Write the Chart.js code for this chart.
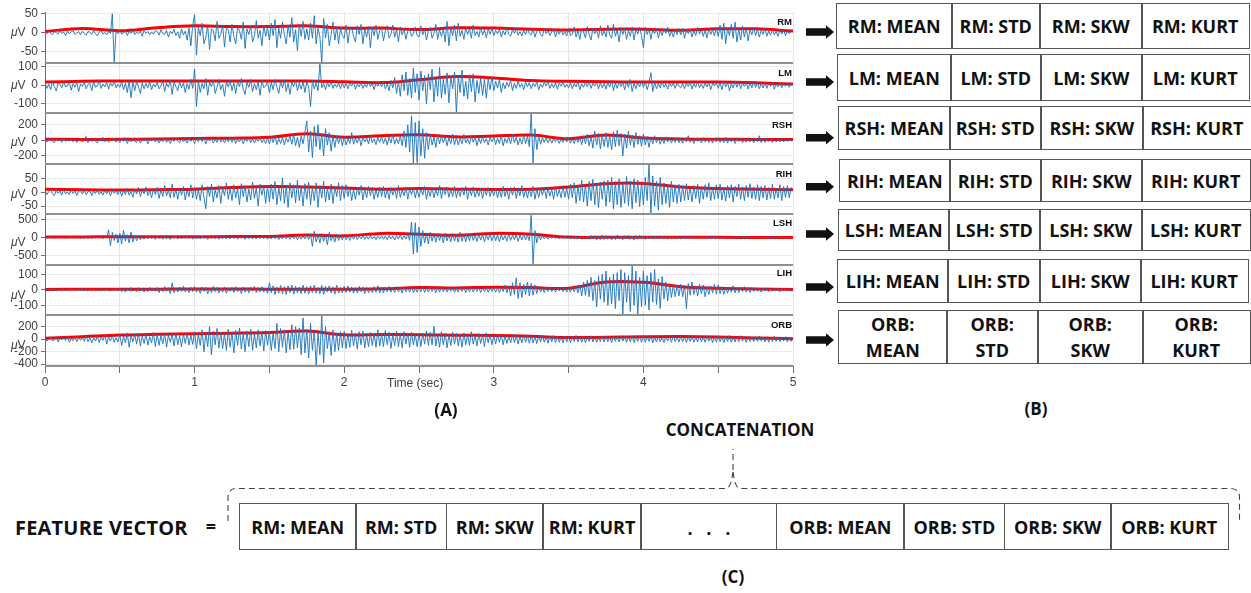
<!DOCTYPE html>
<html>
<head>
<meta charset="utf-8">
<title>EMG feature extraction</title>
<script src="https://cdn.jsdelivr.net/npm/chart.js@4.4.1/dist/chart.umd.min.js"></script>
<style>
  html, body { margin: 0; padding: 0; background: #fff; }
  #page { position: relative; width: 1251px; height: 593px; overflow: hidden; background: #fff; }
  #eegWrap { position: absolute; left: 0; top: 0; width: 800px; height: 395px; }
  .lbl { position: absolute; white-space: nowrap; line-height: 1; }
  .chan { font: bold 9.5px 'Liberation Sans', Arial, sans-serif; color: #111; transform: translate(-100%, -50%); }
  .unit { font: 12px 'Liberation Sans', Arial, sans-serif; color: #404040; transform: translateY(-50%); }
  .unit i { font-style: italic; }
  .axisTitle { font: 12px 'Liberation Sans', Arial, sans-serif; color: #404040; transform: translateY(-50%); }
  .caption { font: 700 17px 'Open Sans', sans-serif; color: #111; transform: translate(-50%, -50%); }
  .cell { position: absolute; box-sizing: border-box; border: 1.5px solid #555; display: flex;
          align-items: center; justify-content: center; text-align: center;
          font: 700 18px 'Open Sans', sans-serif; color: #111; line-height: 26px; white-space: nowrap; }
  svg { position: absolute; left: 0; top: 0; }
</style>
</head>
<body>
<div id="page">
  <div id="eegWrap"><canvas id="eeg" width="800" height="395"></canvas></div>
  <svg id="deco" width="1251" height="593"></svg>
</div>
<script>
// ---- channels and features ----
const channelNames = ['RM', 'LM', 'RSH', 'RIH', 'LSH', 'LIH', 'ORB'];
const statNames = ['MEAN', 'STD', 'SKW', 'KURT'];

// ---- axis ticks and limits (µV) ----
const rmTicks  = [-50, 0, 50];         const rmLimits  = [-80, 55];
const lmTicks  = [-100, 0, 100];       const lmLimits  = [-150, 120];
const rshTicks = [-200, 0, 200];       const rshLimits = [-300, 350];
const rihTicks = [-50, 0, 50];         const rihLimits = [-80, 105];
const lshTicks = [-500, 0, 500];       const lshLimits = [-770, 660];
const lihTicks = [-100, 0, 100];       const lihLimits = [-165, 160];
const orbTicks = [-400, -200, 0, 200]; const orbLimits = [-430, 380];
const timeLimits = [0, 5];

// ---- raw traces, one sample every 12.5 ms (0 .. 5 s), 20 samples per line ----
const rmSignal = [
  2,-3,5,-1,-6,3,0,-4,6,-2,1,-8,4,-3,2,5,-5,-1,3,-6,
  4,-2,-7,3,1,-5,6,-3,-9,2,5,-4,0,-6,3,-2,50,-80,4,-3,
  6,-4,-1,5,-8,3,-2,7,-5,1,-3,4,-10,6,-2,3,-6,2,-4,5,
  3,-7,8,-2,-5,6,-12,4,-3,9,-8,2,-15,10,-6,4,-20,12,-35,20,
  48,-60,15,-8,25,-30,-12,18,-45,10,5,-22,30,-15,-5,20,-38,12,8,-25,
  22,-10,-30,15,5,-18,28,-42,10,-5,18,-25,-8,32,-15,6,-35,20,-10,14,
  -20,25,-8,35,-40,12,-15,28,-5,-30,20,-12,40,-25,8,-48,22,-10,30,-18,
  10,-20,25,-15,45,-30,12,-10,-80,38,-15,22,-35,-5,28,-20,15,-30,12,-8,
  -15,20,-28,8,15,-10,-25,18,-5,22,-30,10,-12,16,-40,14,-8,20,-18,6,
  12,-22,5,18,-15,-4,20,-12,8,-25,15,-6,10,-18,4,12,-10,-3,15,-8,
  -12,18,-6,10,-20,5,14,-15,-2,22,-18,8,-10,12,-25,30,-35,15,-8,20,
  -22,25,-10,6,-18,14,-5,10,-15,20,-8,3,-12,15,-6,8,-14,10,-4,12,
  -8,6,-3,10,-12,5,-6,14,-4,-10,8,-2,12,-7,3,-9,6,-5,10,-3,
  -6,9,-12,4,8,-5,-10,12,-3,6,-8,2,10,-12,5,-4,8,-6,3,-9,
  12,-8,-4,15,-12,6,-18,10,2,-14,16,-6,-20,12,-3,8,-15,18,-8,5,
  -12,20,-6,-15,22,-10,8,-25,14,-5,12,-18,6,-10,15,-20,10,-4,14,-8,
  -40,15,-5,10,-18,8,-3,12,-14,6,-8,10,-2,15,-10,4,-12,8,-5,11,
  -6,12,-15,8,-3,10,-12,5,-8,14,-4,9,-10,6,-14,11,-5,8,-9,13,
  -10,20,-18,25,-30,12,-8,22,-15,28,-25,10,-20,18,-12,15,-22,8,-6,14,
  -8,10,-12,6,-5,12,-10,4,-7,9,-6,3,-10,8,-4,7,-8,5,-3,6,
  2
];
const lmSignal = [
  12,-18,5,-25,20,-8,-32,10,3,-15,18,-10,-5,22,-28,8,-12,15,-35,6,
  -8,14,-20,3,10,-30,18,-12,-4,25,-18,6,-10,15,-22,12,-6,20,-15,4,
  -12,18,-25,10,-40,22,-68,15,-30,20,-10,-45,12,-20,8,-15,18,-25,6,-10,
  15,-20,-5,22,-35,10,-12,25,-50,18,-8,-30,20,-15,12,-40,8,-22,30,-18,
  85,-115,25,-40,10,-20,35,-55,15,-8,28,-45,-12,30,-25,5,-60,20,-10,25,
  -30,12,-45,22,-8,35,-20,-50,15,-12,30,-35,8,-25,18,-55,25,-15,-5,20,
  -40,15,-25,30,-10,-45,20,-15,28,-35,10,-50,18,-8,25,-30,12,-22,20,-40,
  18,-10,-115,25,-20,12,-30,115,-15,8,-25,15,-10,20,-18,5,-12,14,-20,10,
  -15,8,-20,12,-5,18,-22,6,-10,15,-18,4,-12,20,-8,10,-25,12,-6,14,
  -10,18,-20,8,-30,25,-15,40,-45,20,-60,55,-30,70,-55,35,-70,90,-40,60,
  -80,75,-30,50,-100,60,-25,85,-90,40,-60,94,-70,30,-50,65,-95,45,-20,70,
  -150,50,-40,80,-60,20,-75,55,-35,60,-90,25,-45,40,-55,30,-70,35,-25,45,
  -30,20,-15,28,-40,12,-20,15,-8,25,-30,10,-18,22,-12,8,-25,18,-10,14,
  -20,10,-8,18,-25,6,-12,15,-5,20,-18,8,-15,12,-22,10,-6,16,-12,5,
  -15,12,-20,8,-10,18,-25,6,-12,15,-8,22,-18,10,-5,14,-20,12,-15,8,
  -22,15,-10,25,-30,12,-18,20,-8,14,-25,18,-12,30,-35,10,-20,15,-10,22,
  -12,18,-25,8,66,-35,15,-20,8,-15,18,-12,6,-22,14,-8,10,-18,12,-6,
  -15,10,-20,12,-8,16,-22,8,-12,20,-14,6,-18,12,-10,15,-25,10,-5,14,
  -18,12,-25,20,-10,15,-30,8,-15,22,-12,18,-20,10,-8,14,-22,12,-15,20,
  -12,15,-20,8,-15,12,-18,10,-8,14,-22,6,-10,12,-15,8,-6,10,-12,5,
  8
];
const rshSignal = [
  15,-20,8,25,-12,-30,18,-8,10,-25,20,-15,5,-10,22,-18,12,-28,8,15,
  -20,12,50,-30,10,-15,25,-8,-35,20,-12,40,-18,6,-25,15,-10,30,-22,10,
  -30,25,-15,35,-40,10,-20,30,-12,-25,18,-35,22,-10,28,-45,15,-8,30,-20,
  25,-35,12,-18,35,-25,8,-40,20,-15,30,-10,-30,25,-20,15,-35,28,-12,18,
  -40,30,-20,35,-15,40,-45,20,-10,30,-35,15,-25,38,-20,10,-30,25,-18,40,
  -25,35,-40,15,-20,30,-45,25,-12,40,-30,18,-35,22,-10,35,-28,12,-40,30,
  -45,50,-30,60,-55,25,-40,45,-60,35,-20,55,-50,80,-70,40,-90,60,-45,100,
  250,-150,120,-220,180,-80,200,-120,90,-200,150,-60,100,-140,70,-90,60,-40,50,-70,
  45,-60,30,-40,100,-50,25,-35,55,-70,40,-20,35,-45,60,-30,20,-55,40,-25,
  50,-40,30,-60,45,-35,80,-50,25,-45,60,-70,120,-90,200,-150,316,-300,230,-286,
  250,-200,150,-230,100,-120,80,-60,40,-90,75,-45,60,-30,50,-70,35,-40,80,-55,
  40,-60,30,-45,75,-35,20,-50,60,-25,45,-70,30,-40,55,-30,25,-60,40,-20,
  45,-55,30,-40,60,-70,25,-35,50,-45,80,-30,40,-60,30,-50,70,-40,55,-80,
  340,-290,150,-120,60,-50,35,-25,40,-30,20,-35,25,-15,30,-40,18,-25,35,-20,
  30,-35,20,-40,45,-25,35,-55,60,-45,80,-70,50,-100,120,-60,90,-110,70,-80,
  100,-90,60,-120,110,-80,130,-70,90,-200,80,-100,120,-60,70,-90,100,-50,60,-75,
  80,-60,50,-90,40,-45,60,-30,35,-50,25,-40,45,-20,30,-35,20,-25,40,-30,
  25,-35,30,-20,60,-25,18,-40,30,-15,25,-30,35,-20,15,-28,22,-35,30,-18,
  35,-25,20,-30,40,-35,25,-18,30,-40,22,-15,28,-30,18,-25,35,-20,15,-30,
  25,-20,60,-30,18,-25,30,-15,22,-28,15,-20,25,-18,12,-22,20,-15,18,-10,
  10
];
const rihSignal = [
  6,-8,3,10,-5,-12,8,-3,5,-10,12,-6,2,-8,9,-4,6,-11,4,7,
  -6,10,-9,3,7,-12,5,-4,11,-7,2,-10,8,-5,6,-13,9,-3,5,-8,
  10,-14,6,-8,15,-10,3,-18,12,-6,18,-15,8,-5,20,-12,6,-20,14,-8,
  18,-22,10,-15,25,-12,8,-20,30,-18,12,-25,15,-10,22,-28,10,-15,28,-20,
  20,-25,12,-30,28,-18,-60,22,-15,30,-35,10,-20,25,-40,18,-12,35,-25,15,
  -30,28,-20,15,-45,32,-15,25,-35,12,-28,38,-22,18,-50,30,-10,22,-40,26,
  -35,30,-25,40,-45,20,-30,53,-40,25,-55,35,-20,28,-38,45,-30,22,-50,32,
  -25,38,-45,20,-30,35,-55,25,-20,40,-35,18,-28,30,-40,22,-15,35,-30,25,
  -22,28,-15,20,-30,12,-25,18,-10,25,-28,15,-20,22,-12,18,-25,10,-18,20,
  -15,22,-20,12,-25,18,-10,15,-22,25,-18,10,-12,20,-25,14,-8,18,-20,12,
  -18,15,-10,22,-25,12,-15,18,-20,10,-12,25,-22,15,-8,20,-18,12,-15,22,
  -20,12,-15,18,-10,22,-25,15,-12,20,-18,8,-14,16,-22,12,-10,18,-15,10,
  -12,15,-20,10,-18,22,-15,12,-25,18,-10,20,-22,15,-12,25,-18,10,-20,14,
  -15,22,-25,12,-18,15,-10,20,-22,18,-14,12,-25,22,-15,10,-20,25,-18,15,
  -25,30,-20,35,-40,25,-30,45,-35,28,-50,40,-30,48,-45,32,-55,38,-25,42,
  -50,45,-35,55,-60,40,-45,50,-55,35,-40,58,-48,42,-60,50,-38,45,-52,40,
  -45,55,-30,105,-78,60,-50,40,-65,55,-45,35,-40,30,-55,40,-35,28,-40,30,
  -35,25,-30,32,-28,20,-35,25,-22,30,-40,22,-25,28,-18,35,-30,20,-25,28,
  -22,30,-28,18,-32,25,-20,28,-35,22,-15,30,-25,20,-30,25,-18,32,-22,20,
  -25,28,-30,22,-20,25,-28,18,-22,30,-25,15,-20,28,-30,22,-18,25,-20,18,
  10
];
const lshSignal = [
  8,-12,15,-6,20,-15,5,-10,18,-8,12,-20,6,-14,10,-5,16,-12,8,-18,
  12,-10,20,-15,6,-22,14,-8,18,-12,10,-25,15,-6,220,-230,150,-80,100,-150,
  120,-180,200,-100,80,-150,160,-120,60,-90,40,-60,30,-45,25,-35,40,-20,30,-50,
  35,-25,20,-45,40,-30,25,-50,30,-20,45,-35,15,-40,30,-25,50,-30,20,-45,
  30,-40,25,-35,45,-20,30,-50,35,-25,40,-30,20,-45,35,-25,30,-40,25,-35,
  40,-30,25,-45,30,-20,35,-50,25,-30,45,-35,20,-40,30,-25,40,-30,35,-45,
  35,-40,50,-30,45,-55,30,-40,60,-35,40,-50,45,-30,55,-60,35,-45,50,-40,
  60,-50,100,-250,180,-120,90,-150,120,-100,80,-200,150,-90,60,-120,100,-80,50,-70,
  80,-60,50,-80,45,-40,60,-55,40,-35,55,-50,35,-45,60,-40,30,-55,45,-35,
  50,-45,40,-60,55,-35,45,-70,60,-40,80,-60,50,-45,100,-80,440,-465,420,-420,
  300,-250,200,-150,120,-180,150,-100,90,-130,120,-80,100,-150,130,-90,80,-120,110,-100,
  90,-130,150,-100,80,-120,100,-90,130,-80,70,-110,100,-70,90,-120,80,-60,110,-90,
  100,-90,80,-120,90,-70,60,-100,120,-80,70,-60,90,-110,80,-70,100,-60,70,-90,
  630,-740,200,-150,90,-60,50,-40,30,-45,35,-25,40,-30,20,-35,30,-20,25,-30,
  30,-40,25,-35,45,-30,20,-45,35,-25,40,-50,60,-40,50,-60,45,-55,70,-50,
  60,-45,50,-65,40,-55,70,-40,45,-60,55,-35,65,-50,40,-70,55,-45,60,-40,
  45,-50,30,-40,25,-35,40,-30,20,-25,35,-30,25,-40,30,-20,25,-35,20,-28,
  30,-25,20,-35,25,-18,30,-22,15,-30,25,-20,35,-25,18,-30,22,-15,28,-20,
  20,-30,25,-18,30,-22,15,-25,20,-30,22,-18,28,-20,15,-25,20,-12,18,-15,
  15,-20,25,-12,18,-22,10,-15,20,-18,12,-22,15,-10,18,-15,12,-20,10,-12,
  5
];
const lihSignal = [
  4,-6,2,-5,7,-3,5,-8,3,-4,6,-7,2,-5,8,-3,4,-6,5,-4,
  6,-5,3,-8,5,-4,7,-6,2,-5,8,-7,4,-3,6,-9,5,-4,7,-6,
  10,-12,6,-15,12,-8,15,-10,5,-12,14,-8,10,-15,8,-12,15,-6,12,-10,
  15,-18,10,-12,20,-10,14,-25,44,-20,12,-15,18,-10,22,-14,8,-18,15,-12,
  20,-15,12,-22,18,-10,15,-25,10,-18,22,-12,15,-20,10,-15,18,-22,12,-10,
  15,-18,20,-12,10,-25,18,-15,12,-20,16,-10,22,-18,14,-12,20,-15,10,-22,
  45,-20,25,-30,18,-22,28,-25,20,-30,25,-18,30,-28,22,-20,18,-25,30,-22,
  20,-28,25,-18,30,-22,15,-25,28,-30,22,-15,25,-20,18,-28,30,-22,15,-20,
  22,-18,25,-15,18,-22,15,-20,22,-12,18,-25,15,-20,12,-18,20,-15,25,-20,
  15,-20,18,-12,22,-15,12,-18,20,-14,15,-22,18,-12,10,-15,20,-18,12,-16,
  15,-12,20,-18,12,-15,18,-10,15,-20,12,-14,18,-12,10,-15,14,-10,12,-16,
  12,-15,18,-10,14,-18,10,-12,16,-14,12,-10,15,-18,10,-12,14,-16,12,-10,
  12,-15,10,-18,15,-12,30,-20,25,-40,45,-30,76,-57,45,-50,35,-30,50,-40,
  40,-35,30,-25,20,-15,12,-18,15,-10,18,-12,10,-15,12,-8,14,-12,10,-15,
  12,-15,18,-12,25,-20,30,-40,50,-35,60,-45,80,-70,60,-110,90,-60,100,-80,
  120,-100,80,-90,100,-120,110,-70,130,-156,110,-80,90,-140,154,-100,120,-156,80,-110,
  120,-100,90,-130,110,-80,130,-95,70,-120,85,-60,50,-70,40,-50,35,-45,30,-40,
  35,-45,30,-120,40,-35,50,-30,25,-40,35,-25,30,-45,20,-30,25,-20,35,-28,
  30,-25,20,-30,15,-22,18,-15,25,-20,12,-18,15,-12,20,-15,10,-18,14,-10,
  12,-10,8,-15,10,-8,12,-12,6,-10,8,-6,10,-12,8,-5,10,-8,6,-10,
  3
];
const orbSignal = [
  20,-30,10,35,-25,-15,40,-45,18,-10,30,-20,45,-50,15,-25,35,-40,28,-18,
  30,-35,50,-40,25,-60,20,-30,45,-55,35,-20,70,-80,40,-30,60,-50,25,-45,
  80,-100,45,-60,100,-130,60,-40,75,-80,90,-110,50,-70,85,-95,40,-60,110,-120,
  80,-100,60,-75,95,-130,70,-50,85,-110,100,-90,55,-120,80,-70,110,-95,65,-85,
  120,-150,80,-100,150,-200,100,-120,200,-250,130,-90,170,-140,110,-150,90,-180,160,-130,
  120,-220,140,-100,180,-160,100,-200,130,-120,160,-180,90,-140,150,-110,120,-190,140,-100,
  130,-180,100,-150,250,-200,170,-130,150,-220,120,-170,230,-160,200,-140,180,-250,340,-220,
  160,-300,250,-180,150,-420,100,-250,380,-380,200,-150,120,-260,150,-200,100,-180,120,-140,
  120,-150,90,-130,140,-110,100,-160,120,-90,130,-140,80,-120,110,-100,90,-130,150,-110,
  100,-120,140,-90,110,-150,80,-100,130,-120,90,-140,120,-80,100,-130,110,-90,80,-120,
  90,-120,100,-80,130,-100,110,-90,205,-110,80,-130,120,-90,100,-140,70,-100,110,-80,
  90,-110,80,-130,100,-90,70,-100,120,-80,60,-110,90,-70,80,-120,100,-60,70,-90,
  60,-80,70,-50,80,-90,60,-70,50,-60,75,-55,60,-80,45,-60,70,-50,55,-65,
  50,-60,40,-70,55,-45,60,-50,40,-65,50,-40,60,-55,45,-50,35,-60,50,-45,
  40,-55,50,-40,60,-45,35,-50,45,-60,40,-35,55,-45,40,-50,35,-40,50,-45,
  45,-40,35,-55,50,-35,40,-45,55,-30,45,-50,35,-40,50,-55,40,-35,45,-50,
  45,-50,40,-35,55,-60,30,-45,50,-40,35,-55,40,-30,45,-50,60,-40,35,-45,
  50,-40,35,-55,45,-35,40,-50,30,-45,55,-40,35,-50,45,-30,40,-55,35,-45,
  50,-40,35,-55,45,-35,60,-50,40,-45,35,-40,55,-30,45,-50,40,-35,30,-40,
  40,-35,50,-30,35,-45,40,-50,30,-40,45,-35,30,-40,35,-30,40,-45,30,-35,
  10
];

// ---- smoothed trends, one value every 250 ms (0 .. 5 s) ----
const rmTrend  = [3, 11, 5, 13, 18, 16, 16, 18, 12, 12, 8, 13, 12, 9, 7, 9, 9, 6, 10, 10, 4];
const lmTrend  = [16, 20, 22, 22, 22, 22, 21, 22, 18, 13, 28, 46, 38, 24, 20, 17, 16, 16, 16, 12, 5];
const rshTrend = [15, 12, 14, 18, 25, 28, 40, 85, 40, 60, 72, 45, 56, 68, 22, 70, 30, 18, 14, 12, 10];
const rihTrend = [12, 10, 9, 10, 12, 18, 22, 20, 16, 12, 14, 12, 11, 12, 20, 32, 33, 20, 14, 12, 10];
const lshTrend = [20, 20, 25, 25, 25, 30, 35, 75, 50, 120, 95, 65, 120, 95, 15, 10, 10, 8, 8, 6, 5];
const lihTrend = [2, 3, 3, 4, 5, 5, 4, 4, 3, 6, 14, 12, 16, 14, 10, 50, 48, 20, 10, 5, 2];
const orbTrend = [16, 40, 65, 78, 86, 95, 107, 130, 70, 74, 70, 64, 59, 45, 26, 30, 38, 42, 35, 20, 5];

const SAMPLE_PERIOD = 0.0125; // s between raw samples
const TREND_PERIOD = 0.25;    // s between trend values

const channelData = {
  RM:  { signal: rmSignal,  trend: rmTrend,  ticks: rmTicks,  limits: rmLimits },
  LM:  { signal: lmSignal,  trend: lmTrend,  ticks: lmTicks,  limits: lmLimits },
  RSH: { signal: rshSignal, trend: rshTrend, ticks: rshTicks, limits: rshLimits },
  RIH: { signal: rihSignal, trend: rihTrend, ticks: rihTicks, limits: rihLimits },
  LSH: { signal: lshSignal, trend: lshTrend, ticks: lshTicks, limits: lshLimits },
  LIH: { signal: lihSignal, trend: lihTrend, ticks: lihTicks, limits: lihLimits },
  ORB: { signal: orbSignal, trend: orbTrend, ticks: orbTicks, limits: orbLimits }
};

function toPoints(values, period) {
  return values.map((v, i) => ({ x: Math.round(i * period * 10000) / 10000, y: v }));
}

// ---- panel (A): stacked channel traces ----
Chart.defaults.font.family = "'Liberation Sans', Arial, sans-serif";

const scales = {
  x: {
    type: 'linear',
    min: timeLimits[0], max: timeLimits[1],
    grid: { color: '#e4e4e4', tickColor: '#6e6e6e', tickLength: 7, drawTicks: true },
    border: { color: '#6e6e6e', width: 1 },
    ticks: {
      stepSize: 0.5, autoSkip: false, maxRotation: 0, padding: 2,
      color: '#404040', font: { size: 12 },
      callback: v => Number.isInteger(v) ? String(v) : ''
    },
    afterFit: s => { s.height = 29; }
  }
};
// scales declared bottom-up so the first channel lands on top of the stack
[...channelNames].reverse().forEach(ch => {
  const cfg = channelData[ch];
  scales['y' + ch] = {
    type: 'linear',
    position: 'left',
    stack: 'channels',
    stackWeight: 1,
    min: cfg.limits[0], max: cfg.limits[1],
    grid: { color: '#ebebeb', tickColor: '#6e6e6e', tickLength: 4 },
    border: { color: '#6e6e6e', width: 1 },
    ticks: { color: '#404040', font: { size: 12 }, padding: 3, autoSkip: false },
    afterBuildTicks: s => { s.ticks = cfg.ticks.map(v => ({ value: v })); },
    afterFit: s => { s.width = 45; }
  };
});

const datasets = [];
channelNames.forEach(ch => {
  datasets.push({
    data: toPoints(channelData[ch].signal, SAMPLE_PERIOD),
    yAxisID: 'y' + ch, xAxisID: 'x',
    borderColor: '#1673bd', borderWidth: 0.9, pointRadius: 0, tension: 0, fill: false
  });
});
channelNames.forEach(ch => {
  datasets.push({
    data: toPoints(channelData[ch].trend, TREND_PERIOD),
    yAxisID: 'y' + ch, xAxisID: 'x',
    borderColor: '#ff0000', borderWidth: 3, pointRadius: 0, tension: 0.4, fill: false
  });
});

// keep every trace inside its own channel band
const bandClip = {
  id: 'bandClip',
  beforeDatasetDraw(chart, args) {
    const ys = chart.scales[args.meta.yAxisID];
    const ca = chart.chartArea;
    const ctx = chart.ctx;
    ctx.save();
    ctx.beginPath();
    ctx.rect(ca.left, ys.top, ca.right - ca.left, ys.bottom - ys.top);
    ctx.clip();
  },
  afterDatasetDraw(chart) { chart.ctx.restore(); }
};

// grey rule under each channel band
const bandRules = {
  id: 'bandRules',
  afterDraw(chart) {
    const ctx = chart.ctx, ca = chart.chartArea;
    ctx.save();
    ctx.strokeStyle = '#8f8f8f';
    ctx.lineWidth = 2;
    channelNames.forEach(ch => {
      const s = chart.scales['y' + ch];
      const y = Math.round(s.bottom);
      ctx.beginPath();
      ctx.moveTo(ca.left, y);
      ctx.lineTo(ca.right, y);
      ctx.stroke();
    });
    ctx.restore();
  }
};

new Chart(document.getElementById('eeg'), {
  type: 'line',
  data: { datasets },
  options: {
    responsive: false,
    animation: false,
    devicePixelRatio: 1,
    events: [],
    layout: { padding: { left: 0, right: 7, top: 12, bottom: 0 } },
    plugins: { legend: { display: false }, tooltip: { enabled: false } },
    scales
  },
  plugins: [bandClip, bandRules]
});

// ---- text around the traces ----
const page = document.getElementById('page');
function addLabel(cls, html, left, top) {
  const d = document.createElement('div');
  d.className = 'lbl ' + cls;
  d.innerHTML = html;
  d.style.left = left + 'px';
  d.style.top = top + 'px';
  page.appendChild(d);
  return d;
}
const chanLabelY = [20.7, 71.7, 124, 172.7, 221.7, 271.7, 324];
const unitLabelY = [32, 85, 141.7, 194, 241.7, 295, 345];
channelNames.forEach((ch, i) => {
  addLabel('chan', ch, 792, chanLabelY[i]);
  addLabel('unit', '<i>\u03bc</i>V', 11, unitLabelY[i]);
});
addLabel('axisTitle', 'Time (sec)', 387, 383);
addLabel('caption', '(A)', 446, 409);
addLabel('caption', '(B)', 1036, 408);
addLabel('caption', '(C)', 733, 576);
addLabel('caption', 'CONCATENATION', 740, 429);
const fv = addLabel('caption', 'FEATURE VECTOR', 15, 527);
fv.style.transform = 'translateY(-50%)';
fv.style.fontSize = '20px';
fv.style.letterSpacing = '0.2px';
addLabel('caption', '=', 211, 526).style.fontSize = '18px';

// ---- panel (B): per-channel feature rows ----
const rowBoxes = [
  { x0: 836, y0: 3,   x1: 1248, y1: 49,  cuts: [951, 1039, 1141] },
  { x0: 837, y0: 54,  x1: 1248, y1: 101, cuts: [950, 1040, 1141] },
  { x0: 838, y0: 106, x1: 1250, y1: 150, cuts: [949, 1040, 1142] },
  { x0: 839, y0: 159, x1: 1249, y1: 202, cuts: [949, 1040, 1141] },
  { x0: 838, y0: 209, x1: 1249, y1: 251, cuts: [948, 1039, 1141] },
  { x0: 837, y0: 259, x1: 1247, y1: 303, cuts: [947, 1039, 1140] },
  { x0: 838, y0: 310, x1: 1249, y1: 364, cuts: [946, 1037, 1142], wrap: true }
];
const arrowY = [32, 82, 137.7, 186.7, 234, 287, 340];

function addCell(html, x0, y0, x1, y1) {
  const c = document.createElement('div');
  c.className = 'cell';
  c.innerHTML = html;
  c.style.left = x0 + 'px';
  c.style.top = y0 + 'px';
  c.style.width = (x1 - x0 + 1.5) + 'px';
  c.style.height = (y1 - y0) + 'px';
  page.appendChild(c);
  return c;
}
channelNames.forEach((ch, r) => {
  const box = rowBoxes[r];
  const edges = [box.x0, ...box.cuts, box.x1];
  statNames.forEach((st, k) => {
    const txt = box.wrap ? ch + ':<br>' + st : ch + ': ' + st;
    addCell(txt, edges[k], box.y0, edges[k + 1], box.y1);
  });
});

// ---- panel (C): concatenated feature vector ----
const vectorEdges = [239, 355, 445.7, 542.3, 640.3, 776, 903.3, 1004, 1110, 1227];
const firstCh = channelNames[0], lastCh = channelNames[channelNames.length - 1];
const vectorCells = [
  ...statNames.map(st => firstCh + ': ' + st),
  '. . .',
  ...statNames.map(st => lastCh + ': ' + st)
];
vectorCells.forEach((txt, k) => {
  const c = addCell(txt, vectorEdges[k], 503, vectorEdges[k + 1], 550);
  if (txt === '. . .') { c.style.wordSpacing = '9px'; c.style.paddingTop = '2px'; }
});

// ---- arrows and brace ----
const svgNS = 'http://www.w3.org/2000/svg';
const deco = document.getElementById('deco');
page.appendChild(deco);
arrowY.forEach(y => {
  const p = document.createElementNS(svgNS, 'polygon');
  const pts = [[806, y - 3.8], [826, y - 3.8], [826, y - 6.8], [834, y], [826, y + 6.8], [826, y + 3.8], [806, y + 3.8]];
  p.setAttribute('points', pts.map(q => q.join(',')).join(' '));
  p.setAttribute('fill', '#111');
  deco.appendChild(p);
});
const brace = document.createElementNS(svgNS, 'path');
brace.setAttribute('d',
  'M228 521 L228 497 Q228.5 488.5 236 488.5 L726 488.5 Q731.5 488 733 470 ' +
  'Q734.5 488 740 488.5 L1231 488.5 Q1239.5 489 1239.5 497 L1239.5 523 ' +
  'M733 470 L733 449');
brace.setAttribute('fill', 'none');
brace.setAttribute('stroke', '#444');
brace.setAttribute('stroke-width', '1.1');
brace.setAttribute('stroke-dasharray', '6 4');
deco.appendChild(brace);
</script>
</body>
</html>
